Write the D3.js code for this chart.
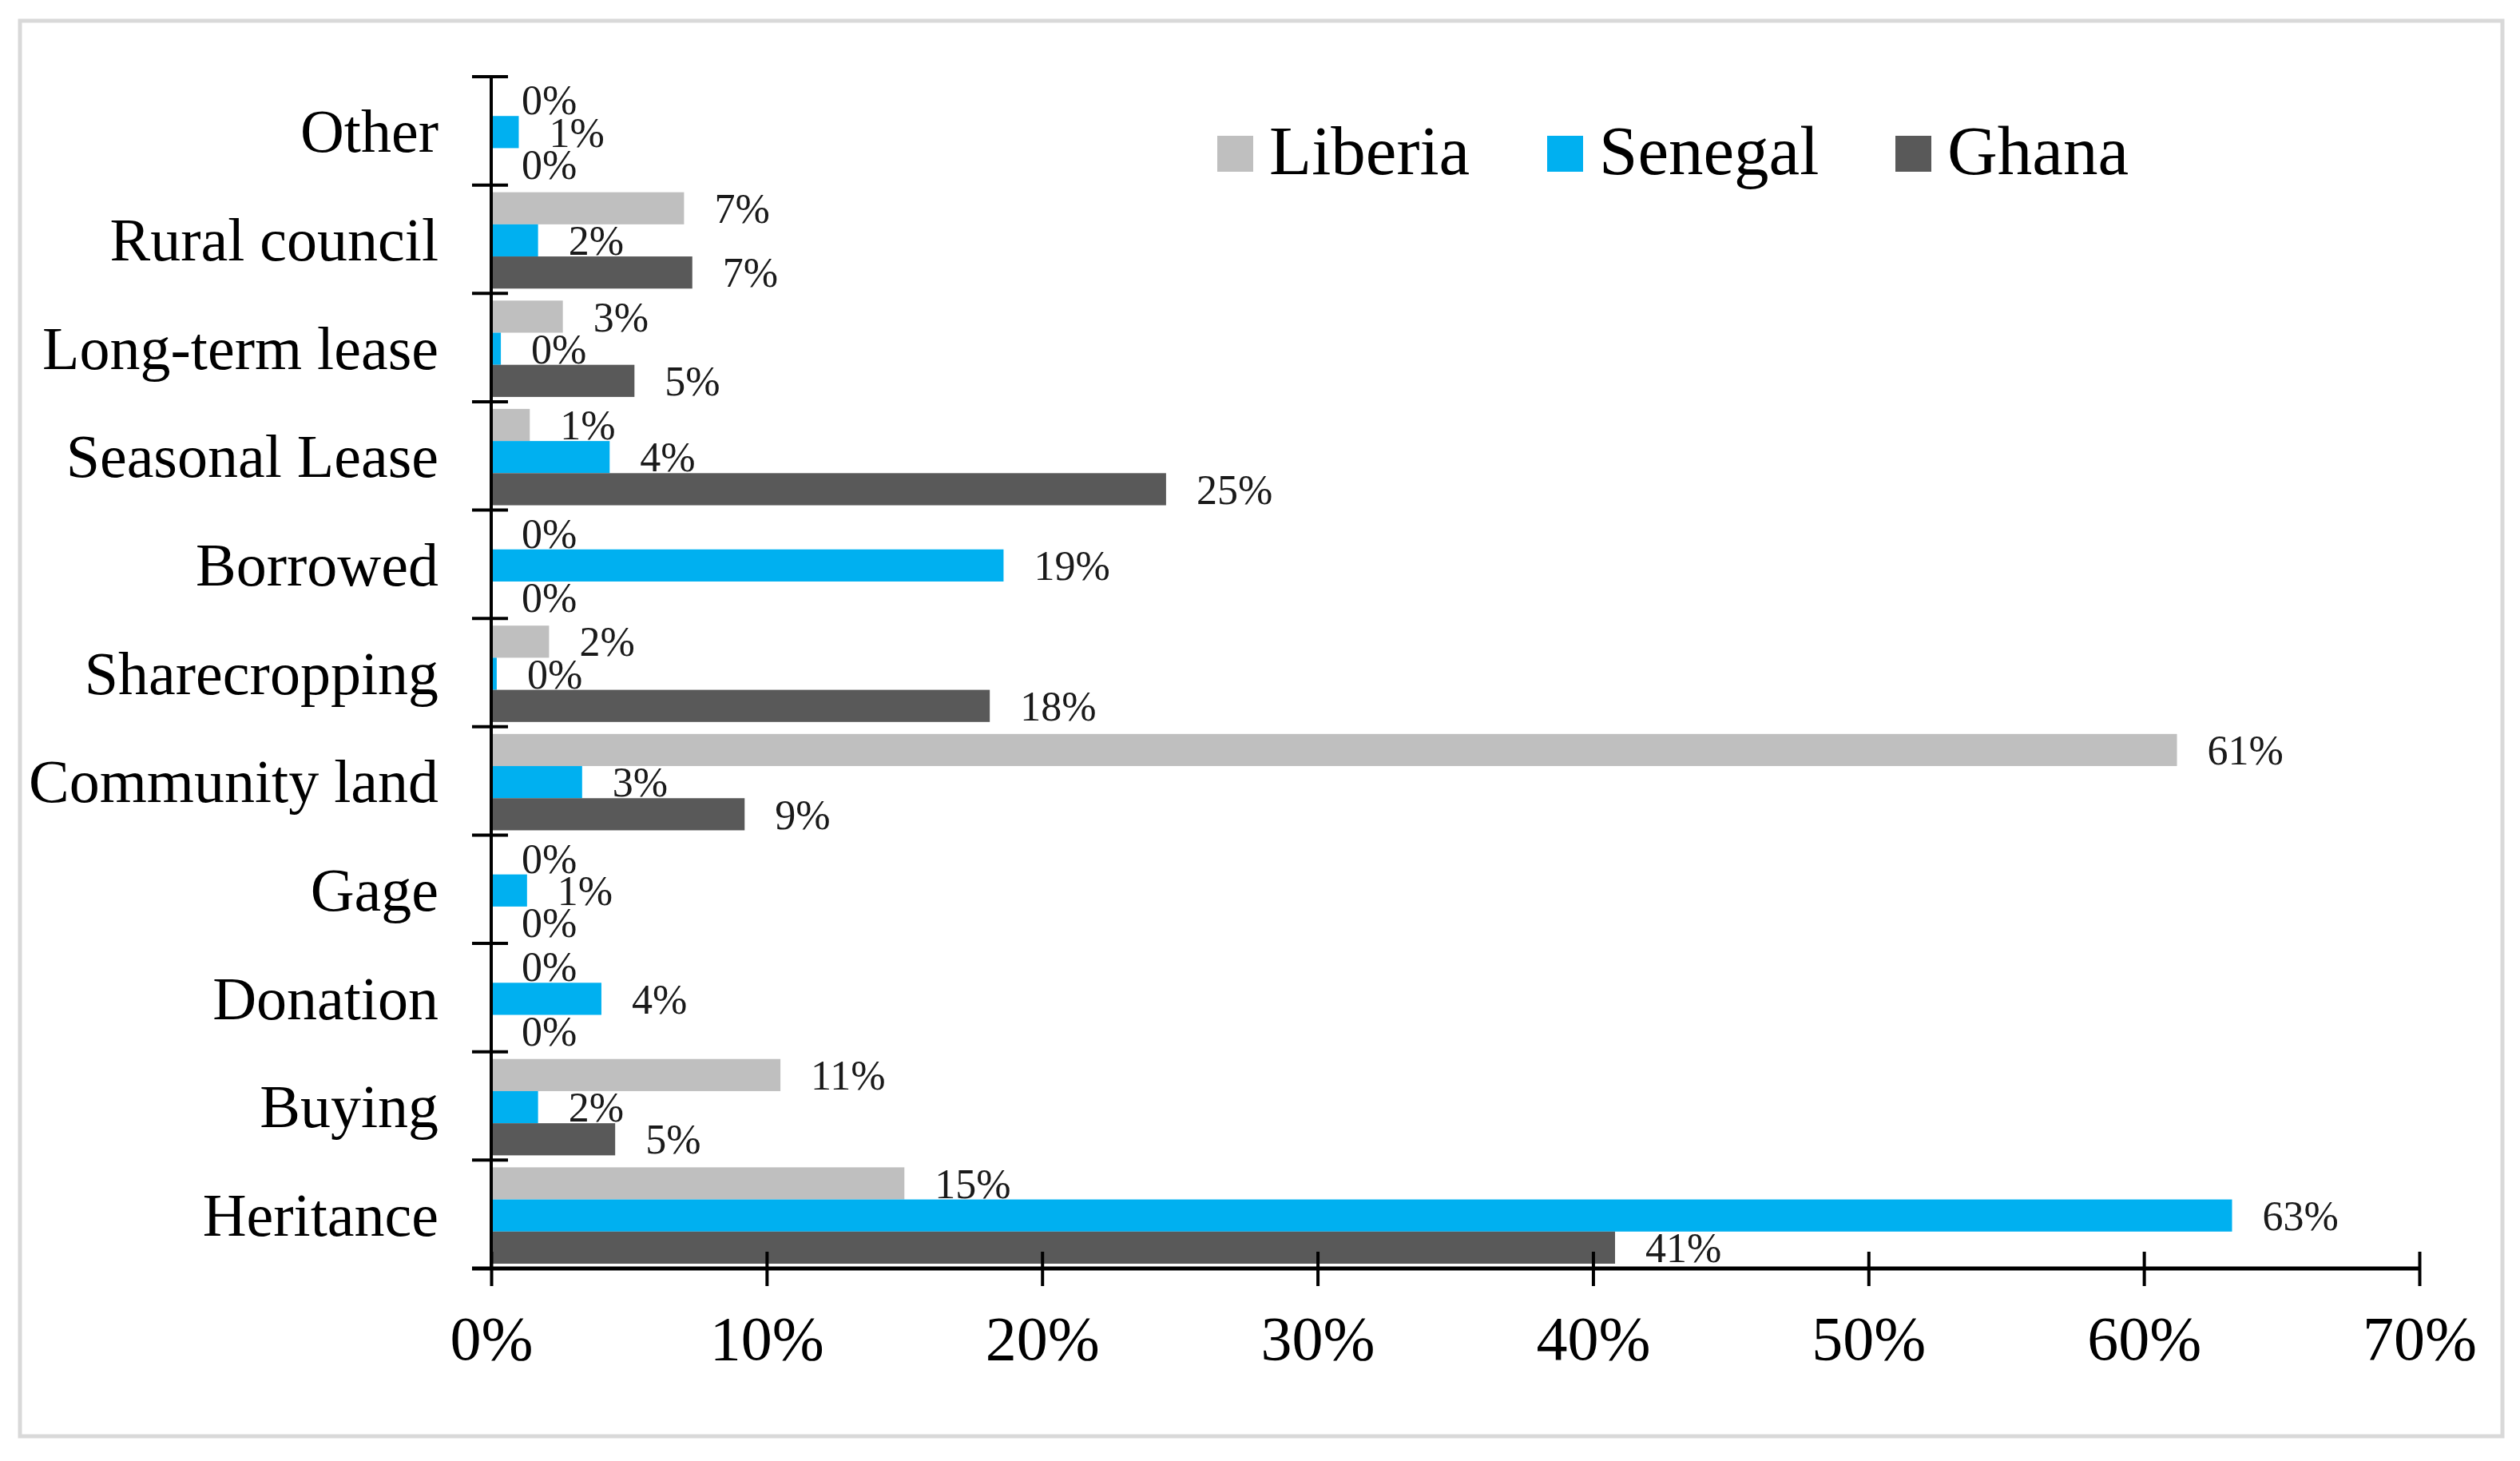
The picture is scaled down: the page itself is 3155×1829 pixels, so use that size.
<!DOCTYPE html>
<html>
<head>
<meta charset="utf-8">
<script src="https://cdn.jsdelivr.net/npm/d3@7"></script>
<style>
  body { margin: 0; background: #fff; }
  svg { display: block; font-family: "Liberation Serif", "Times New Roman", serif; }
</style>
</head>
<body>
<svg id="chart"></svg>
<script>
// categories top to bottom
const categories = ["Other", "Rural council", "Long-term lease", "Seasonal Lease", "Borrowed",
  "Sharecropping", "Community land", "Gage", "Donation", "Buying", "Heritance"];
const seriesNames = ["Liberia", "Senegal", "Ghana"];
const seriesColors = ["#bfbfbf", "#00b0f0", "#595959"];

// values in %
const liberia = [0, 7.0, 2.6, 1.4, 0, 2.1, 61.2, 0, 0, 10.5, 15.0];
const senegal = [1.0, 1.7, 0.35, 4.3, 18.6, 0.2, 3.3, 1.3, 4.0, 1.7, 63.2];
const ghana   = [0, 7.3, 5.2, 24.5, 0, 18.1, 9.2, 0, 0, 4.5, 40.8];
const labelsLiberia = ["0%", "7%", "3%", "1%", "0%", "2%", "61%", "0%", "0%", "11%", "15%"];
const labelsSenegal = ["1%", "2%", "0%", "4%", "19%", "0%", "3%", "1%", "4%", "2%", "63%"];
const labelsGhana   = ["0%", "7%", "5%", "25%", "0%", "18%", "9%", "0%", "0%", "5%", "41%"];
const xTicks = [0, 10, 20, 30, 40, 50, 60, 70];

const width = 3155, height = 1829;
const svg = d3.select("#chart").attr("width", width).attr("height", height);

// outer frame
svg.append("rect")
  .attr("x", 25).attr("y", 26).attr("width", 3108).attr("height", 1772)
  .attr("fill", "#fff").attr("stroke", "#d9d9d9").attr("stroke-width", 5);

const x = d3.scaleLinear().domain([0, 70]).range([615, 3029]);
const y = d3.scaleBand().domain(categories).range([96, 1588]).padding(0);
const ySub = d3.scaleBand().domain(seriesNames).range([9, y.bandwidth() - 6]).padding(0);

const rows = categories.map((c, i) => ({
  cat: c,
  vals: [liberia[i], senegal[i], ghana[i]],
  labels: [labelsLiberia[i], labelsSenegal[i], labelsGhana[i]]
}));

// bars
const groups = svg.append("g").selectAll("g")
  .data(rows)
  .enter()
  .append("g")
  .attr("transform", d => `translate(0,${y(d.cat)})`);

groups.selectAll("rect")
  .data(d => seriesNames.map((s, j) => ({ s, j, v: d.vals[j] })))
  .enter()
  .append("rect")
  .attr("x", x(0))
  .attr("y", d => ySub(d.s))
  .attr("width", d => x(d.v) - x(0))
  .attr("height", ySub.bandwidth())
  .attr("fill", d => seriesColors[d.j]);

// data labels
groups.selectAll("text")
  .data(d => seriesNames.map((s, j) => ({ s, j, v: d.vals[j], t: d.labels[j] })))
  .enter()
  .append("text")
  .attr("x", d => x(d.v) + 38)
  .attr("y", d => ySub(d.s) + ySub.bandwidth() / 2)
  .attr("dy", "0.35em")
  .attr("font-size", 52)
  .attr("fill", "#1a1a1a")
  .text(d => d.t);

// x axis
const xAxis = svg.append("g")
  .attr("transform", `translate(0,${y.range()[1]})`)
  .call(d3.axisBottom(x).tickValues(xTicks).tickSize(22).tickFormat(d => d + "%"));
xAxis.select(".domain").remove();
xAxis.selectAll(".tick line").attr("y1", -21).attr("stroke", "#000").attr("stroke-width", 4);
xAxis.selectAll(".tick text")
  .attr("y", 114).attr("dy", 0)
  .attr("font-size", 78).attr("font-family", "Liberation Serif").attr("fill", "#000");
xAxis.append("line")
  .attr("x1", 591).attr("x2", x(70)).attr("y1", 0).attr("y2", 0)
  .attr("stroke", "#000").attr("stroke-width", 5);

// y axis: line, boundary ticks, labels
svg.append("line")
  .attr("x1", x(0)).attr("x2", x(0))
  .attr("y1", y.range()[0]).attr("y2", y.range()[1])
  .attr("stroke", "#000").attr("stroke-width", 4);

const bounds = categories.map(c => y(c)).concat([y.range()[1]]);
svg.append("g").selectAll("line")
  .data(bounds)
  .enter()
  .append("line")
  .attr("x1", x(0) - 24).attr("x2", x(0) + 21)
  .attr("y1", d => d).attr("y2", d => d)
  .attr("stroke", "#000").attr("stroke-width", 4);

svg.append("g").selectAll("text")
  .data(categories)
  .enter()
  .append("text")
  .attr("x", 549)
  .attr("y", d => y(d) + y.bandwidth() / 2)
  .attr("dy", "0.35em")
  .attr("text-anchor", "end")
  .attr("font-size", 76)
  .attr("fill", "#000")
  .text(d => d);

// legend
const legendX = [1524, 1937, 2373];
const legend = svg.append("g").selectAll("g")
  .data(seriesNames)
  .enter()
  .append("g")
  .attr("transform", (d, i) => `translate(${legendX[i]},0)`);

legend.append("rect")
  .attr("x", 0).attr("y", 170).attr("width", 45).attr("height", 45)
  .attr("fill", (d, i) => seriesColors[i]);

legend.append("text")
  .attr("x", 65).attr("y", 218)
  .attr("font-size", 87)
  .attr("fill", "#000")
  .text(d => d);
</script>
</body>
</html>
